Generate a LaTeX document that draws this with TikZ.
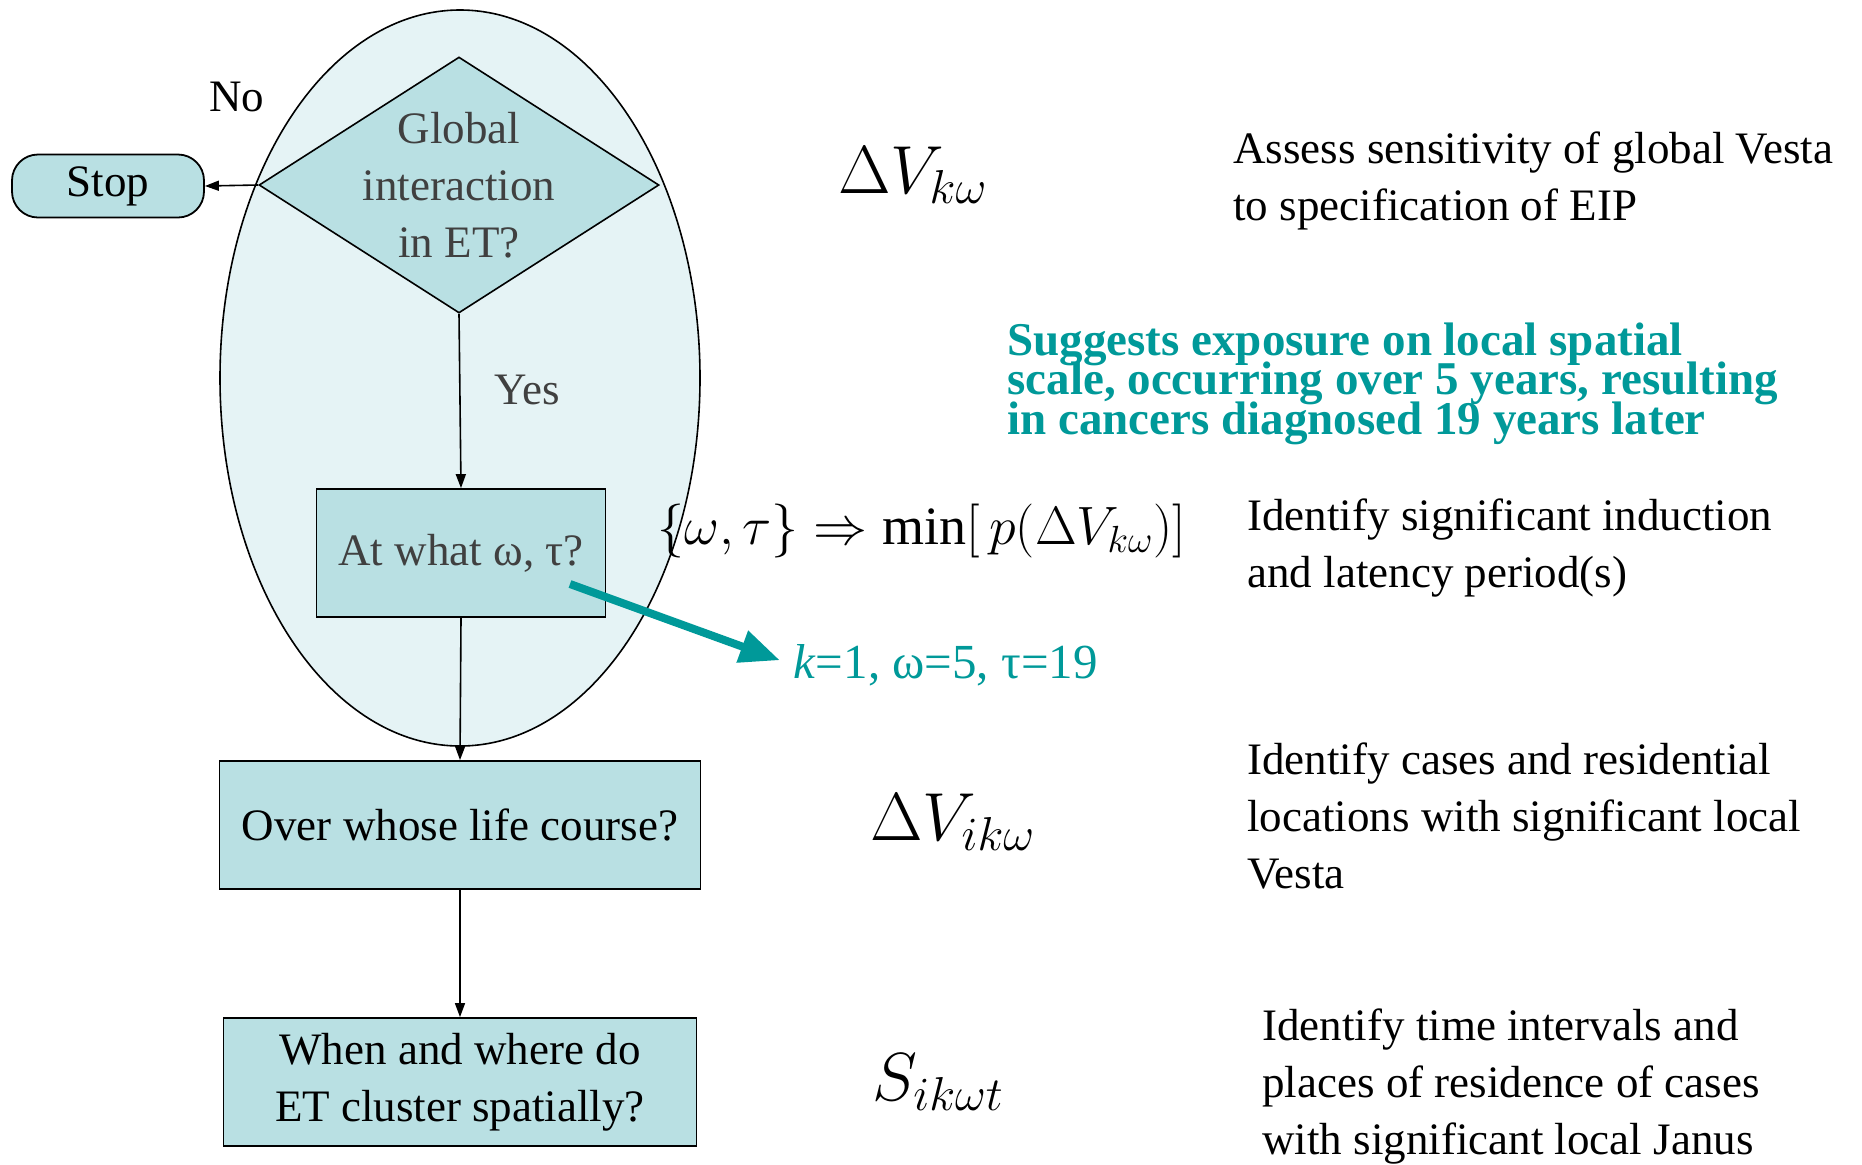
\RequirePackage{fix-cm}
\documentclass[tikz,border=0pt]{standalone}
\usepackage{amsmath}
\usepackage{amssymb}
\usepackage{xcolor}
\usepackage{fontspec}
\setmainfont{Liberation Serif}
\usepackage{tikz}
\usetikzlibrary{shapes.geometric,arrows.meta}

\definecolor{boxfill}{RGB}{185,224,227}
\definecolor{zonefill}{RGB}{229,243,245}
\definecolor{hintteal}{RGB}{0,153,153}
\newcommand{\txtsize}{\fontsize{22.5}{28.5}\selectfont}
\newcommand{\symsize}{\fontsize{34}{40}\selectfont}
\newcommand{\tightsize}{\bfseries\fontsize{23.5}{19.75}\selectfont\lineskiplimit=-30pt}

\begin{document}
\begin{tikzpicture}[x=0.5pt,y=-0.5pt,
  flow/.style={-{Triangle[length=7pt,width=5pt]}, line width=0.8pt},
  stepbox/.style={draw, line width=0.9pt, fill=boxfill, minimum height=64pt, align=center, font=\txtsize},
  hint/.style={-{Triangle[length=20pt,width=16pt]}, line width=4pt, color=hintteal},
  note/.style={anchor=north west, inner sep=0pt, align=left, font=\txtsize}]
  \useasboundingbox (0,0) rectangle (1862,1164);

  \node[draw, ellipse, line width=0.8pt, fill=zonefill, minimum width=240pt, minimum height=368pt] (zone) at (460,378) {};

  \node[draw, diamond, line width=0.8pt, fill=boxfill, inner sep=0pt, minimum width=200pt, minimum height=128pt,
    label={[align=center, font=\txtsize, text=black!75]center:Global\\interaction\\in ET?}] (glob) at (459,185) {};
  \node[draw, line width=0.9pt, fill=boxfill, rounded corners=13pt, minimum width=96pt, minimum height=31.5pt, font=\txtsize] (stop) at (108,186) {Stop};
  \node[font=\txtsize] (no) at (237,97) {No};
  \node[font=\txtsize, text=black!75] (yes) at (527,390) {Yes};

  \node[stepbox, minimum width=144.5pt, text=black!75] (at) at (461,553) {At what ω, τ?};
  \node[stepbox, minimum width=240.5pt] (life) at (460,825) {Over whose life course?};
  \node[stepbox, minimum width=236.5pt] (clus) at (460,1082) {When and where do\\ET cluster spatially?};

  \draw[flow] (glob.west) -- (stop.east);
  \draw[flow] (glob.south) -- (at.north);
  \draw[flow] (at.south) -- (life.north);
  \draw[flow] (life.south) -- (clus.north);

  \coordinate (tstart) at (570,584);
  \node[anchor=west, inner sep=0pt, font=\fontsize{24.5}{28}\selectfont, text=hintteal] (kval) at (793,665) {\textit{k}=1, ω=5, τ=19};
  \draw[hint, shorten >=7pt] (tstart) -- (kval.west);

  \node[anchor=west, inner sep=0pt, font=\symsize] (vglob) at (838,175) {$\Delta V_{k\omega}$};
  \node[anchor=west, inner sep=0pt, font=\fontsize{27}{30}\selectfont] (vmin) at (657,531) {$\{\omega,\tau\}\Rightarrow\min[\,p(\Delta V_{k\omega})]$};
  \node[anchor=west, inner sep=0pt, font=\symsize] (vloc) at (870,822) {$\Delta V_{ik\omega}$};
  \node[anchor=west, inner sep=0pt, font=\symsize] (sloc) at (872,1082) {$S_{ik\omega t}$};

  \node[note] (assess) at (1233,131) {Assess sensitivity of global Vesta\\to specification of EIP};
  \node[note, font=\tightsize, text=hintteal] (sugg) at (1007,322) {Suggests exposure on local spatial\\scale, occurring over 5 years, resulting\\in cancers diagnosed 19 years later};
  \node[note] (ident) at (1247,498) {Identify significant induction\\and latency period(s)};
  \node[note] (cases) at (1247,742) {Identify cases and residential\\locations with significant local\\Vesta};
  \node[note] (times) at (1262,1008) {Identify time intervals and\\places of residence of cases\\with significant local Janus};
\end{tikzpicture}
\end{document}
